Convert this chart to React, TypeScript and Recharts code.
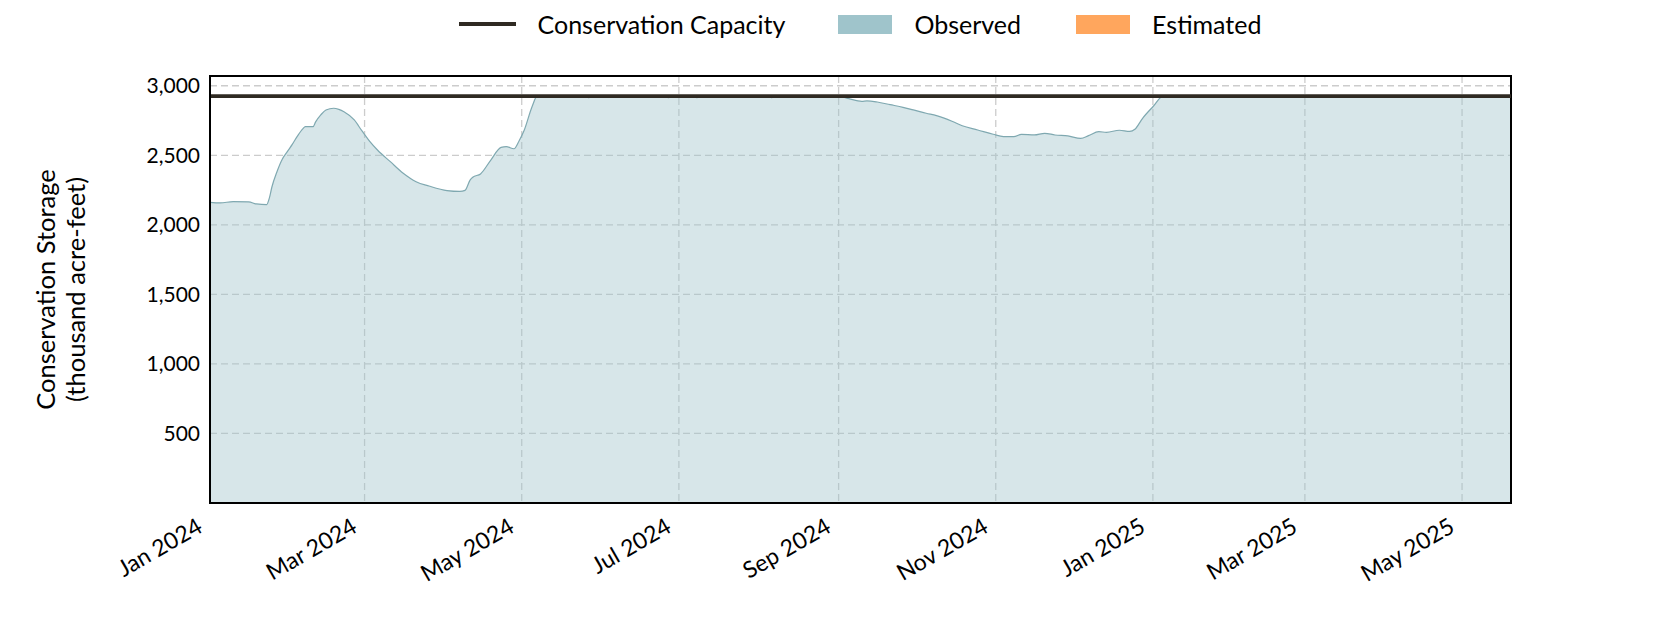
import {
  ComposedChart,
  Area,
  XAxis,
  YAxis,
  CartesianGrid,
  ReferenceLine,
  ReferenceArea,
  Legend,
} from 'recharts';

// observed conservation storage, thousand acre-feet
const dates = [
  '2024-01-01', '2024-01-05', '2024-01-10', '2024-01-16', '2024-01-19', '2024-01-23',
  '2024-01-24', '2024-01-25', '2024-01-27', '2024-01-29', '2024-01-31', '2024-02-02',
  '2024-02-04', '2024-02-06', '2024-02-07', '2024-02-10', '2024-02-11', '2024-02-13',
  '2024-02-15', '2024-02-18', '2024-02-20', '2024-02-22', '2024-02-26', '2024-02-29',
  '2024-03-03', '2024-03-06', '2024-03-11', '2024-03-16', '2024-03-21', '2024-03-26',
  '2024-04-02', '2024-04-07', '2024-04-09', '2024-04-11', '2024-04-12', '2024-04-15',
  '2024-04-19', '2024-04-23', '2024-04-25', '2024-04-28', '2024-04-30', '2024-05-02',
  '2024-05-05', '2024-05-07', '2024-05-25', '2024-05-27', '2024-05-29', '2024-06-25',
  '2024-06-27', '2024-06-29', '2024-07-06', '2024-07-08', '2024-07-10', '2024-08-04',
  '2024-08-06', '2024-08-08', '2024-09-01', '2024-09-05', '2024-09-10', '2024-09-12',
  '2024-09-16', '2024-09-21', '2024-09-26', '2024-09-30', '2024-10-05', '2024-10-09',
  '2024-10-15', '2024-10-19', '2024-10-25', '2024-10-31', '2024-11-04', '2024-11-08',
  '2024-11-11', '2024-11-16', '2024-11-20', '2024-11-24', '2024-11-29', '2024-12-04',
  '2024-12-07', '2024-12-11', '2024-12-14', '2024-12-19', '2024-12-23', '2024-12-25',
  '2024-12-28', '2025-01-01', '2025-01-05', '2025-03-01', '2025-05-20',
];

const storage = [
  2162, 2158, 2167, 2165, 2150, 2145,
  2190, 2270, 2382, 2470, 2526, 2580,
  2640, 2690, 2706, 2706, 2740, 2790,
  2826, 2838, 2830, 2813, 2754, 2675,
  2600, 2538, 2454, 2371, 2310, 2279,
  2246, 2240, 2248, 2323, 2342, 2366,
  2466, 2557, 2562, 2547, 2605, 2682,
  2849, 2925, 2925, 2915, 2925, 2925,
  2915, 2925, 2925, 2915, 2925, 2925,
  2915, 2925, 2925, 2907, 2888, 2891,
  2883, 2864, 2845, 2826, 2802, 2785,
  2745, 2712, 2682, 2651, 2634, 2634,
  2651, 2646, 2658, 2646, 2639, 2622,
  2641, 2670, 2665, 2680, 2672, 2687,
  2766, 2849, 2925, 2925, 2925,
];

const CAPACITY = 2925;

const tickDates = [
  '2024-01-01', '2024-03-01', '2024-05-01', '2024-07-01', '2024-09-01',
  '2024-11-01', '2025-01-01', '2025-03-01', '2025-05-01',
];
const yTicks = [500, 1000, 1500, 2000, 2500, 3000];
const monthNames = ['Jan', 'Feb', 'Mar', 'Apr', 'May', 'Jun', 'Jul', 'Aug', 'Sep', 'Oct', 'Nov', 'Dec'];

const X_MIN = Date.parse('2024-01-01');
const X_MAX = Date.parse('2025-05-20');

const data = dates.map((d, i) => ({ t: Date.parse(d), observed: storage[i] }));

const fmtDate = (v: number) => {
  const d = new Date(v);
  return `${monthNames[d.getUTCMonth()]} ${d.getUTCFullYear()}`;
};

const XTick = ({ x, y, payload }: any) => {
  const ax = x - 6;
  const ay = y + 28;
  return (
    <text x={ax} y={ay} textAnchor="end" fontSize={23} fill="#000" transform={`rotate(-30, ${ax}, ${ay})`}>
      {fmtDate(payload.value)}
    </text>
  );
};

const YLabel = ({ viewBox }: any) => {
  const cy = viewBox.y + viewBox.height / 2;
  const cx = viewBox.x - 75;
  return (
    <text transform={`rotate(-90, ${cx}, ${cy})`} x={cx} y={cy} textAnchor="middle" fontSize={25.5} fill="#000">
      <tspan x={cx}>Conservation Storage</tspan>
      <tspan x={cx} dy={30}>(thousand acre-feet)</tspan>
    </text>
  );
};

const LegendBox = () => (
  <div
    style={{
      display: 'flex',
      justifyContent: 'center',
      alignItems: 'center',
      height: 32,
      paddingLeft: 40,
      fontSize: 25,
      color: '#000',
    }}
  >
    <span style={{ width: 57, height: 4, background: '#2f2a22', marginRight: 22 }} />
    <span style={{ marginRight: 53 }}>Conservation Capacity</span>
    <span style={{ width: 54, height: 19, background: '#9fc4cb', marginRight: 22 }} />
    <span style={{ marginRight: 55 }}>Observed</span>
    <span style={{ width: 54, height: 19, background: '#ffa65d', marginRight: 22 }} />
    <span>Estimated</span>
  </div>
);

export default function App() {
  return (
    <div style={{ fontFamily: "Lato, 'DejaVu Sans', sans-serif" }}>
      <ComposedChart
        width={1664}
        height={614}
        data={data}
        margin={{ top: 36, right: 161, bottom: 59, left: 122 }}
      >
        <Legend
          verticalAlign="top"
          content={LegendBox}
          wrapperStyle={{ top: 0, left: 0, width: 1664 }}
        />
        <CartesianGrid stroke="#cccccc" strokeDasharray="7 4" strokeWidth={1.3} />
        <XAxis
          dataKey="t"
          type="number"
          domain={[X_MIN, X_MAX]}
          allowDataOverflow
          ticks={tickDates.map((d) => Date.parse(d))}
          interval={0}
          tick={XTick}
          tickLine={false}
          tickSize={0}
          tickMargin={0}
          height={60}
          axisLine={{ stroke: '#000', strokeWidth: 2 }}
        />
        <YAxis
          type="number"
          domain={[0, 3070]}
          allowDataOverflow
          ticks={yTicks}
          interval={0}
          width={80}
          tickLine={false}
          tickSize={8}
          tickMargin={2}
          tick={{ fill: '#000', fontSize: 21 }}
          tickFormatter={(v: number) => v.toLocaleString('en-US')}
          axisLine={{ stroke: '#000', strokeWidth: 2 }}
          label={{ content: YLabel }}
        />
        <Area
          dataKey="observed"
          type="monotone"
          fill="#9fc4cb"
          fillOpacity={0.42}
          stroke="#7fa8b0"
          strokeWidth={1.2}
          isAnimationActive={false}
        />
        <ReferenceLine y={CAPACITY} stroke="#2f2a22" strokeWidth={3.6} />
        <ReferenceArea
          x1={X_MIN}
          x2={X_MAX}
          y1={0}
          y2={3070}
          fill="none"
          stroke="#000"
          strokeWidth={2}
          strokeOpacity={1}
        />
      </ComposedChart>
    </div>
  );
}
